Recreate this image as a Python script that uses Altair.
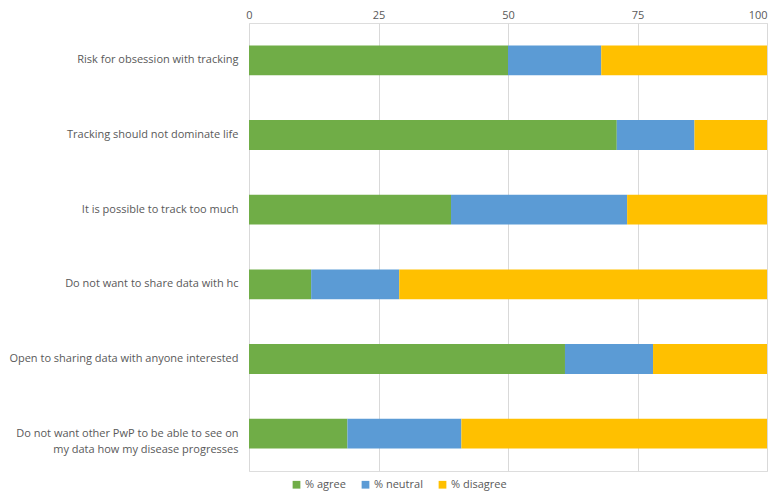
import altair as alt
import pandas as pd

categories = [
    "Risk for obsession with tracking",
    "Tracking should not dominate life",
    "It is possible to track too much",
    "Do not want to share data with hc",
    "Open to sharing data with anyone interested",
    "Do not want other PwP to be able to see on\nmy data how my disease progresses",
]
agree = [50, 71, 39, 12, 61, 19]
neutral = [18, 15, 34, 17, 17, 22]
disagree = [32, 14, 27, 71, 22, 59]
series = ["% agree", "% neutral", "% disagree"]
colors = ["#70AD47", "#5B9BD5", "#FFC000"]
x_ticks = [0, 25, 50, 75, 100]

rows = []
for i, c in enumerate(categories):
    for j, (s, vals) in enumerate(zip(series, [agree, neutral, disagree])):
        rows.append({"category": c, "series": s, "value": vals[i], "order": j})
df = pd.DataFrame(rows)

FONT = "Open Sans"
GRAY = "#595959"

chart = alt.Chart(df).mark_bar().encode(
    x=alt.X("value:Q", stack="zero",
            scale=alt.Scale(domain=[0, 100], nice=False),
            axis=alt.Axis(orient="top", values=x_ticks, title=None, domain=False,
                          ticks=False, labelPadding=3, labelFont=FONT, labelFontSize=11,
                          labelFlush=False, labelBound=False,
                          labelAlign=alt.condition("datum.value == 100",
                                                   alt.value("right"), alt.value("center")),
                          labelColor=GRAY, gridColor="#D9D9D9", gridWidth=1)),
    y=alt.Y("category:N", sort=categories,
            scale=alt.Scale(paddingInner=0.6, paddingOuter=0.3),
            axis=alt.Axis(title=None, domain=False, ticks=False, labelPadding=11,
                          labelFont=FONT, labelFontSize=11, labelColor=GRAY,
                          labelLimit=300, labelLineHeight=16,
                          labelExpr="split(datum.label, '\\n')")),
    color=alt.Color("series:N", sort=series,
                    scale=alt.Scale(domain=series, range=colors),
                    legend=alt.Legend(title=None, orient="none", direction="horizontal",
                                      legendX=42, legendY=456, symbolType="square",
                                      symbolSize=60, symbolStrokeWidth=0,
                                      labelFont=FONT, labelFontSize=11, labelColor=GRAY,
                                      columnPadding=14, labelOffset=3)),
    order=alt.Order("order:Q"),
).properties(
    width=518, height=448,
    autosize=alt.AutoSizeParams(type="none"),
    padding={"left": 241, "top": 15, "right": 3, "bottom": 22},
).configure_view(stroke=None).configure(background="white")

chart.save("out.html", embed_options={"renderer": "svg", "actions": False})
